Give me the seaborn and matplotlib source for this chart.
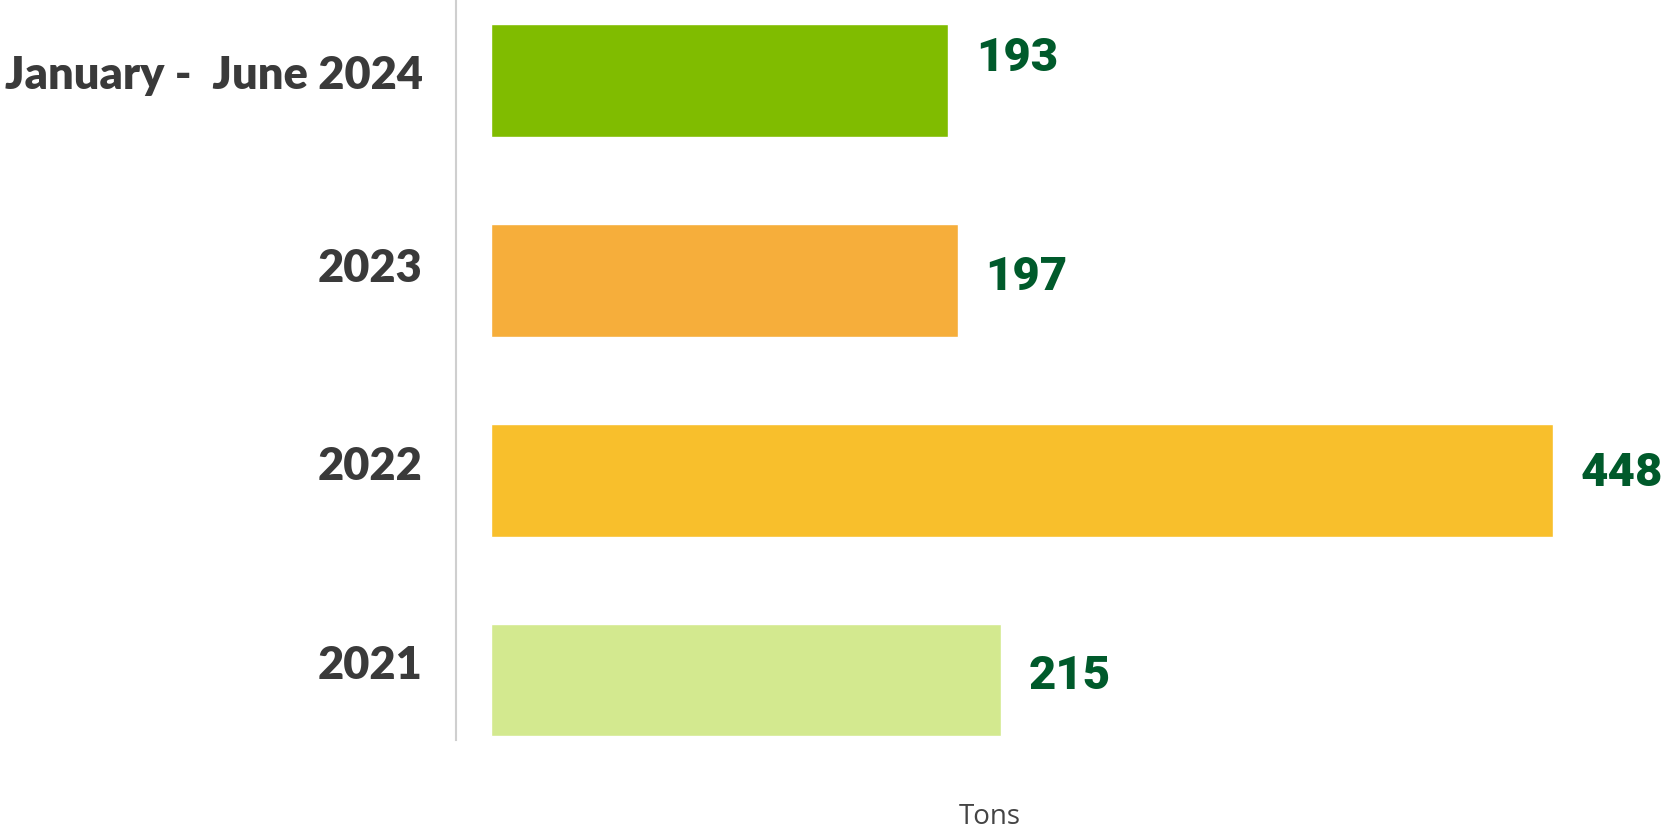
import matplotlib
matplotlib.use("Agg")
import matplotlib.pyplot as plt
import matplotlib.transforms as mtransforms
import seaborn as sns
import pandas as pd

# Tonnage per period
periods = ["January -  June 2024", "2023", "2022", "2021"]
tons = [193, 197, 448, 215]
bar_colors = ["#80BC00", "#F6AE3B", "#F8BF2C", "#D3E98F"]
label_dy = [16, 2, 5, 3]        # upward nudge of value labels, in points
tick_dy = [6, 11, 12, 13]       # upward nudge of category labels, in points
x_label = "Tons"

sns.set_theme(style="white")
plt.rcParams["font.family"] = ["Lato", "DejaVu Sans"]

df = pd.DataFrame({"period": periods, "tons": tons})

fig = plt.figure(figsize=(16.7, 8.32), dpi=100)
ax = fig.add_axes([456 / 1670, 1 - 740 / 832, (1670 - 456) / 1670, 740 / 832])

sns.barplot(data=df, x="tons", y="period", hue="period", palette=bar_colors,
            order=periods, hue_order=periods, orient="h", width=0.565,
            legend=False, ax=ax, saturation=1)

ax.set_xlim(-14.8, 497.5)
ax.set_ylim(3.3, -0.4)

for i, (v, dy) in enumerate(zip(tons, label_dy)):
    ax.annotate(str(v), xy=(v, i), xytext=(20, dy), textcoords="offset points",
                ha="left", va="center", fontsize=34, fontweight="black",
                color="#005A2B", family=["Roboto", "DejaVu Sans"])

ax.set_ylabel("")
ax.set_xlabel("")
ax.set_xticks([])
ax.tick_params(axis="y", length=0, pad=24, labelsize=32.5, labelcolor="#3A3A3A")
for lbl, dy in zip(ax.get_yticklabels(), tick_dy):
    lbl.set_fontweight("heavy")
    lbl.set_transform(lbl.get_transform() +
                      mtransforms.ScaledTranslation(0, dy / 72, fig.dpi_scale_trans))

for s in ["top", "right", "bottom"]:
    ax.spines[s].set_visible(False)
ax.spines["left"].set_color("#CFCFCF")
ax.spines["left"].set_linewidth(1.5)

fig.text(990 / 1670, 1 - 817 / 832, x_label, ha="center", va="center",
         fontsize=20, color="#444444", family=["Open Sans", "DejaVu Sans"])

fig.savefig("out.png", dpi=100, facecolor="white")
